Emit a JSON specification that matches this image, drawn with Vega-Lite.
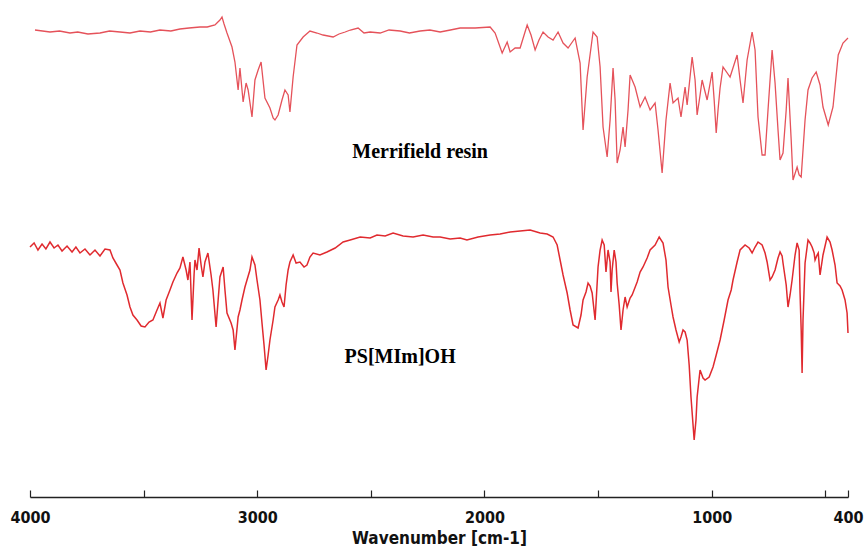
{
  "$schema": "https://vega.github.io/schema/vega-lite/v6.json",
  "autosize": {"type": "none"},
  "width": 818,
  "height": 497,
  "padding": {"left": 30, "top": 0, "right": 16, "bottom": 51},
  "background": "white",
  "config": {"view": {"stroke": null}},
  "datasets": {
    "merrifield": [
      {"w":3978,"t":467},{"w":3912,"t":465},{"w":3870,"t":466},{"w":3824,"t":464},{"w":3790,"t":465},{"w":3745,"t":463},{"w":3692,"t":464},{"w":3650,"t":466},{"w":3604,"t":465},{"w":3560,"t":464},{"w":3516,"t":466},{"w":3470,"t":465},{"w":3428,"t":467},{"w":3380,"t":466},{"w":3340,"t":468},{"w":3300,"t":469},{"w":3252,"t":470},{"w":3220,"t":470},{"w":3186,"t":472},{"w":3164,"t":477},{"w":3155,"t":480},{"w":3146,"t":473},{"w":3133,"t":464},{"w":3111,"t":450},{"w":3098,"t":435},{"w":3084,"t":407},{"w":3076,"t":429},{"w":3062,"t":395},{"w":3049,"t":414},{"w":3040,"t":407},{"w":3023,"t":380},{"w":3010,"t":417},{"w":2996,"t":427},{"w":2983,"t":435},{"w":2966,"t":399},{"w":2944,"t":389},{"w":2930,"t":379},{"w":2922,"t":377},{"w":2908,"t":382},{"w":2891,"t":397},{"w":2878,"t":407},{"w":2864,"t":402},{"w":2856,"t":385},{"w":2842,"t":420},{"w":2825,"t":452},{"w":2798,"t":460},{"w":2768,"t":466},{"w":2737,"t":464},{"w":2710,"t":462},{"w":2666,"t":460},{"w":2640,"t":463},{"w":2613,"t":465},{"w":2590,"t":467},{"w":2556,"t":469},{"w":2530,"t":464},{"w":2503,"t":465},{"w":2459,"t":464},{"w":2420,"t":467},{"w":2371,"t":466},{"w":2330,"t":464},{"w":2283,"t":466},{"w":2240,"t":467},{"w":2195,"t":465},{"w":2150,"t":467},{"w":2107,"t":469},{"w":2041,"t":469},{"w":1975,"t":470},{"w":1953,"t":464},{"w":1922,"t":444},{"w":1900,"t":455},{"w":1887,"t":445},{"w":1865,"t":449},{"w":1843,"t":449},{"w":1812,"t":472},{"w":1795,"t":462},{"w":1777,"t":447},{"w":1760,"t":457},{"w":1742,"t":465},{"w":1720,"t":460},{"w":1698,"t":457},{"w":1676,"t":465},{"w":1654,"t":454},{"w":1632,"t":449},{"w":1601,"t":459},{"w":1579,"t":434},{"w":1566,"t":367},{"w":1548,"t":420},{"w":1522,"t":465},{"w":1504,"t":460},{"w":1491,"t":430},{"w":1478,"t":370},{"w":1460,"t":340},{"w":1447,"t":377},{"w":1434,"t":429},{"w":1425,"t":397},{"w":1416,"t":334},{"w":1403,"t":347},{"w":1390,"t":370},{"w":1381,"t":350},{"w":1368,"t":387},{"w":1359,"t":422},{"w":1337,"t":410},{"w":1315,"t":390},{"w":1293,"t":400},{"w":1271,"t":387},{"w":1249,"t":394},{"w":1236,"t":367},{"w":1218,"t":324},{"w":1201,"t":377},{"w":1183,"t":414},{"w":1170,"t":394},{"w":1148,"t":399},{"w":1135,"t":380},{"w":1117,"t":410},{"w":1108,"t":392},{"w":1086,"t":440},{"w":1073,"t":417},{"w":1064,"t":382},{"w":1051,"t":402},{"w":1042,"t":417},{"w":1020,"t":397},{"w":998,"t":425},{"w":989,"t":397},{"w":980,"t":364},{"w":972,"t":387},{"w":963,"t":409},{"w":950,"t":430},{"w":919,"t":420},{"w":888,"t":442},{"w":875,"t":417},{"w":862,"t":394},{"w":844,"t":437},{"w":822,"t":465},{"w":809,"t":447},{"w":796,"t":380},{"w":778,"t":342},{"w":765,"t":342},{"w":752,"t":387},{"w":734,"t":447},{"w":721,"t":414},{"w":708,"t":367},{"w":699,"t":337},{"w":686,"t":344},{"w":672,"t":387},{"w":664,"t":419},{"w":650,"t":357},{"w":642,"t":317},{"w":624,"t":330},{"w":615,"t":322},{"w":606,"t":320},{"w":589,"t":377},{"w":576,"t":407},{"w":558,"t":419},{"w":540,"t":425},{"w":523,"t":412},{"w":510,"t":390},{"w":487,"t":372},{"w":466,"t":390},{"w":443,"t":442},{"w":422,"t":454},{"w":400,"t":459}
    ],
    "psmim": [
      {"w":4000,"t":250},{"w":3982,"t":254},{"w":3965,"t":247},{"w":3947,"t":253},{"w":3930,"t":248},{"w":3912,"t":255},{"w":3894,"t":249},{"w":3877,"t":252},{"w":3859,"t":246},{"w":3837,"t":251},{"w":3815,"t":245},{"w":3798,"t":250},{"w":3780,"t":244},{"w":3758,"t":248},{"w":3736,"t":242},{"w":3714,"t":247},{"w":3692,"t":241},{"w":3670,"t":248},{"w":3648,"t":247},{"w":3635,"t":239},{"w":3617,"t":232},{"w":3604,"t":227},{"w":3591,"t":214},{"w":3573,"t":202},{"w":3560,"t":190},{"w":3547,"t":182},{"w":3529,"t":177},{"w":3511,"t":171},{"w":3494,"t":170},{"w":3476,"t":175},{"w":3459,"t":177},{"w":3441,"t":187},{"w":3428,"t":194},{"w":3415,"t":179},{"w":3401,"t":197},{"w":3384,"t":207},{"w":3371,"t":215},{"w":3353,"t":224},{"w":3340,"t":229},{"w":3327,"t":240},{"w":3313,"t":227},{"w":3305,"t":217},{"w":3296,"t":235},{"w":3287,"t":177},{"w":3278,"t":222},{"w":3274,"t":237},{"w":3265,"t":227},{"w":3256,"t":249},{"w":3247,"t":232},{"w":3239,"t":220},{"w":3230,"t":235},{"w":3217,"t":244},{"w":3203,"t":222},{"w":3195,"t":207},{"w":3181,"t":170},{"w":3172,"t":197},{"w":3164,"t":220},{"w":3150,"t":230},{"w":3142,"t":207},{"w":3133,"t":184},{"w":3115,"t":174},{"w":3106,"t":167},{"w":3098,"t":147},{"w":3084,"t":180},{"w":3076,"t":187},{"w":3067,"t":197},{"w":3054,"t":210},{"w":3045,"t":217},{"w":3032,"t":227},{"w":3023,"t":240},{"w":3010,"t":232},{"w":3001,"t":217},{"w":2988,"t":197},{"w":2979,"t":174},{"w":2970,"t":152},{"w":2961,"t":127},{"w":2952,"t":142},{"w":2944,"t":157},{"w":2930,"t":177},{"w":2922,"t":190},{"w":2908,"t":197},{"w":2900,"t":202},{"w":2891,"t":195},{"w":2882,"t":190},{"w":2873,"t":212},{"w":2864,"t":227},{"w":2856,"t":235},{"w":2842,"t":242},{"w":2829,"t":234},{"w":2812,"t":235},{"w":2794,"t":230},{"w":2781,"t":232},{"w":2768,"t":240},{"w":2754,"t":244},{"w":2724,"t":242},{"w":2693,"t":245},{"w":2657,"t":249},{"w":2622,"t":255},{"w":2591,"t":257},{"w":2547,"t":260},{"w":2503,"t":259},{"w":2473,"t":262},{"w":2437,"t":261},{"w":2402,"t":264},{"w":2358,"t":261},{"w":2314,"t":260},{"w":2270,"t":262},{"w":2226,"t":260},{"w":2195,"t":260},{"w":2151,"t":258},{"w":2107,"t":259},{"w":2077,"t":257},{"w":2028,"t":260},{"w":1975,"t":262},{"w":1931,"t":263},{"w":1887,"t":265},{"w":1843,"t":266},{"w":1799,"t":267},{"w":1755,"t":264},{"w":1724,"t":263},{"w":1698,"t":260},{"w":1680,"t":252},{"w":1667,"t":237},{"w":1654,"t":222},{"w":1636,"t":204},{"w":1623,"t":187},{"w":1610,"t":172},{"w":1588,"t":169},{"w":1575,"t":182},{"w":1566,"t":197},{"w":1553,"t":205},{"w":1544,"t":214},{"w":1535,"t":211},{"w":1526,"t":204},{"w":1513,"t":177},{"w":1500,"t":230},{"w":1491,"t":247},{"w":1482,"t":257},{"w":1473,"t":252},{"w":1465,"t":225},{"w":1456,"t":247},{"w":1447,"t":235},{"w":1443,"t":205},{"w":1438,"t":227},{"w":1429,"t":247},{"w":1421,"t":235},{"w":1416,"t":214},{"w":1407,"t":192},{"w":1399,"t":167},{"w":1390,"t":187},{"w":1381,"t":200},{"w":1372,"t":190},{"w":1359,"t":199},{"w":1350,"t":202},{"w":1328,"t":215},{"w":1315,"t":225},{"w":1302,"t":230},{"w":1284,"t":239},{"w":1271,"t":247},{"w":1249,"t":252},{"w":1231,"t":260},{"w":1214,"t":254},{"w":1201,"t":237},{"w":1192,"t":210},{"w":1179,"t":192},{"w":1170,"t":180},{"w":1157,"t":167},{"w":1143,"t":155},{"w":1135,"t":160},{"w":1126,"t":167},{"w":1117,"t":165},{"w":1108,"t":157},{"w":1099,"t":132},{"w":1091,"t":100},{"w":1077,"t":57},{"w":1069,"t":77},{"w":1064,"t":100},{"w":1055,"t":119},{"w":1051,"t":127},{"w":1038,"t":119},{"w":1029,"t":117},{"w":1011,"t":120},{"w":994,"t":130},{"w":980,"t":142},{"w":963,"t":157},{"w":945,"t":177},{"w":928,"t":197},{"w":914,"t":207},{"w":906,"t":217},{"w":888,"t":235},{"w":875,"t":247},{"w":853,"t":252},{"w":835,"t":249},{"w":822,"t":244},{"w":809,"t":250},{"w":796,"t":255},{"w":778,"t":252},{"w":765,"t":244},{"w":756,"t":235},{"w":743,"t":217},{"w":734,"t":220},{"w":721,"t":227},{"w":708,"t":239},{"w":699,"t":245},{"w":690,"t":241},{"w":686,"t":234},{"w":672,"t":212},{"w":664,"t":190},{"w":655,"t":202},{"w":646,"t":217},{"w":633,"t":242},{"w":624,"t":254},{"w":615,"t":247},{"w":611,"t":204},{"w":606,"t":167},{"w":602,"t":124},{"w":598,"t":177},{"w":589,"t":234},{"w":576,"t":257},{"w":567,"t":254},{"w":558,"t":250},{"w":549,"t":244},{"w":545,"t":237},{"w":536,"t":242},{"w":531,"t":244},{"w":523,"t":222},{"w":510,"t":242},{"w":492,"t":260},{"w":479,"t":255},{"w":470,"t":247},{"w":457,"t":232},{"w":448,"t":214},{"w":435,"t":211},{"w":426,"t":207},{"w":413,"t":197},{"w":404,"t":184},{"w":400,"t":164}
    ],
    "labels": [
      {"w":2283,"t":345,"name":"Merrifield resin"},
      {"w":2371,"t":140,"name":"PS[MIm]OH"}
    ]
  },
  "layer": [
    {
      "data": {"name": "merrifield"},
      "mark": {"type": "line", "color": "#e5525a", "strokeWidth": 1.3, "interpolate": "linear"},
      "encoding": {
        "x": {
          "field": "w", "type": "quantitative",
          "scale": {"domain": [4000, 400], "nice": false, "zero": false},
          "axis": {
            "values": [4000, 3500, 3000, 2500, 2000, 1500, 1000, 500, 400],
            "labelExpr": "(datum.value % 1000 === 0 || datum.value === 400) ? datum.value : ''",
            "title": "Wavenumber [cm-1]",
            "grid": false,
            "domainColor": "#222222",
            "domainWidth": 1.5,
            "ticks": true,
            "tickColor": "#222222",
            "tickWidth": 1.2,
            "tickSize": -7,
            "labelFont": "DejaVu Sans Condensed, Liberation Sans",
            "labelFontSize": 16,
            "labelFontWeight": "bold",
            "labelColor": "#111111",
            "labelPadding": 19,
            "labelOverlap": false,
            "labelFlush": false,
            "titleFont": "DejaVu Sans Condensed, Liberation Sans",
            "titleFontSize": 17,
            "titleFontWeight": "bold",
            "titleColor": "#111111",
            "titlePadding": 5
          }
        },
        "y": {
          "field": "t", "type": "quantitative",
          "scale": {"domain": [0, 497], "nice": false, "zero": false},
          "axis": null
        }
      }
    },
    {
      "data": {"name": "psmim"},
      "mark": {"type": "line", "color": "#e02a2f", "strokeWidth": 1.5, "interpolate": "linear"},
      "encoding": {
        "x": {"field": "w", "type": "quantitative"},
        "y": {"field": "t", "type": "quantitative"}
      }
    },
    {
      "data": {"name": "labels"},
      "mark": {"type": "text", "font": "Liberation Serif", "fontSize": 20, "fontWeight": "bold", "color": "#000000", "align": "center", "baseline": "middle"},
      "encoding": {
        "x": {"field": "w", "type": "quantitative"},
        "y": {"field": "t", "type": "quantitative"},
        "text": {"field": "name", "type": "nominal"}
      }
    }
  ]
}
